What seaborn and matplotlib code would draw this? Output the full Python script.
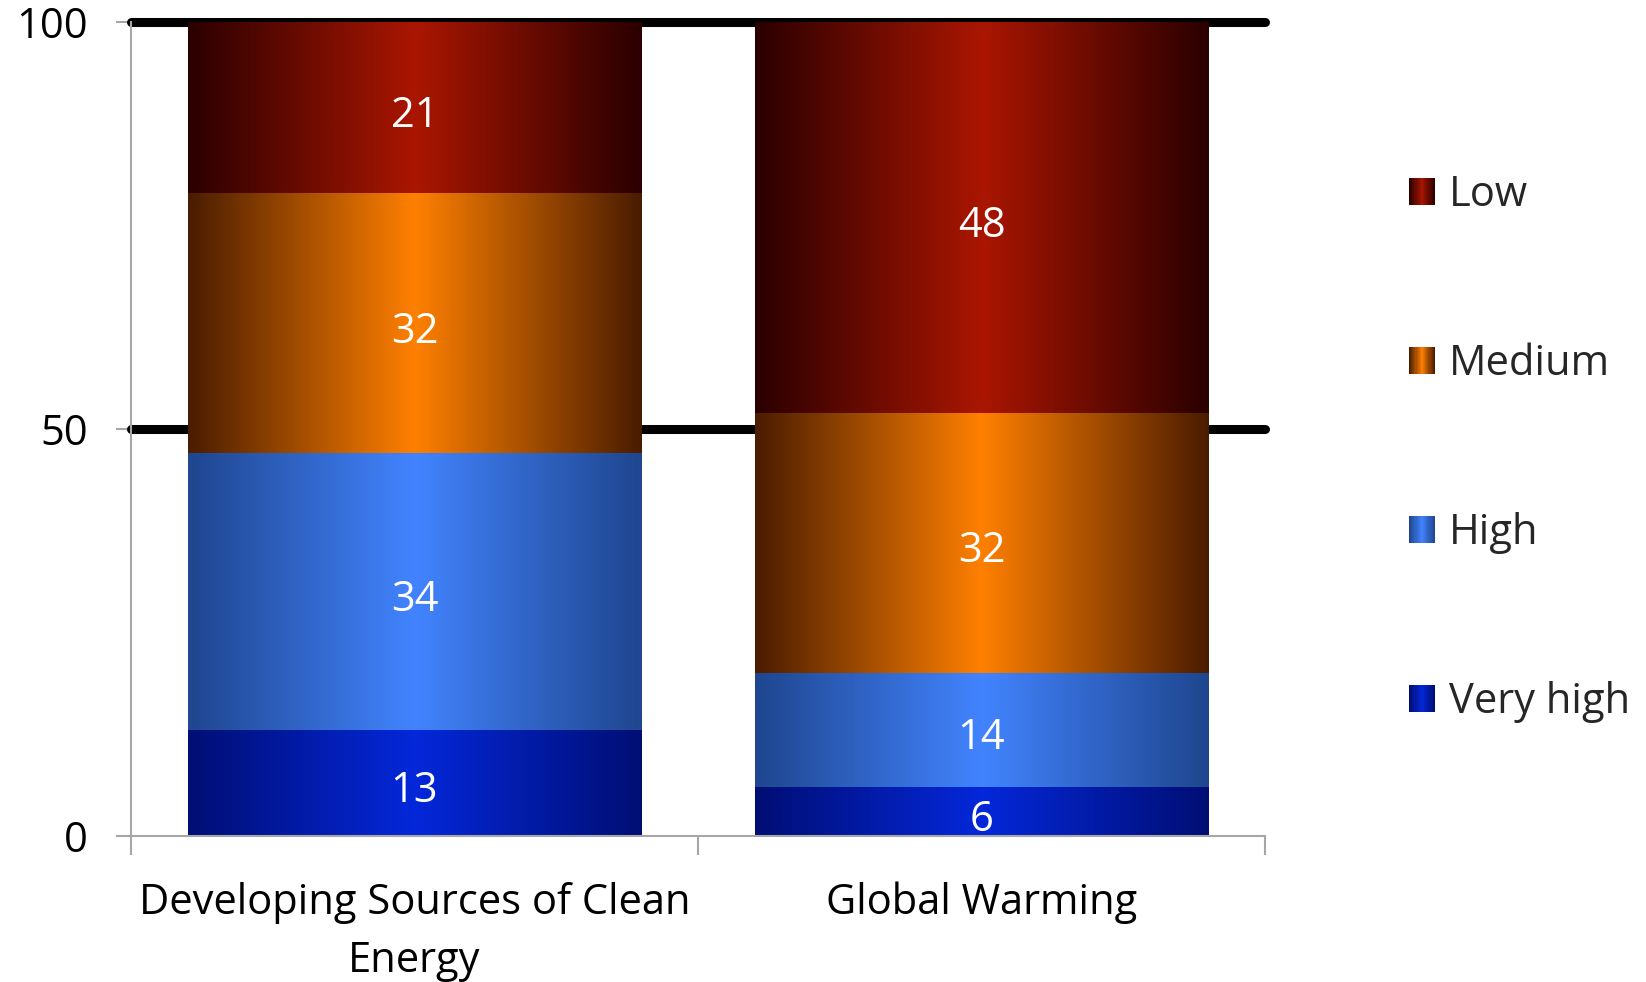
import numpy as np
import pandas as pd
import matplotlib
matplotlib.use("Agg")
import matplotlib.pyplot as plt
import seaborn as sns
from matplotlib.colors import to_rgb
from matplotlib.patches import Rectangle
from matplotlib.legend_handler import HandlerBase

# ---- data ----
categories = ["Developing Sources of Clean\nEnergy", "Global Warming"]
levels = ["Very high", "High", "Medium", "Low"]
very_high = [13, 6]
high = [34, 14]
medium = [32, 32]
low = [21, 48]
yticks = [0, 50, 100]
legend_order = ["Low", "Medium", "High", "Very high"]

series = {"Very high": very_high, "High": high, "Medium": medium, "Low": low}

# ---- styles ----
edge_colors = {"Low": "#2a0000", "Medium": "#4a1c00", "High": "#1f468f", "Very high": "#000e74"}
center_colors = {"Low": "#aa1600", "Medium": "#ff8000", "High": "#4284ff", "Very high": "#0428da"}
FS = 30

sns.set_style("white")
plt.rcParams["font.family"] = ["Open Sans", "DejaVu Sans"]


def grad_colors(edge, center, n=256):
    t = np.linspace(0, 1, n)
    w = 1 - np.abs(2 * t - 1)
    e = np.array(to_rgb(edge))
    c = np.array(to_rgb(center))
    return e[None, :] * (1 - w[:, None]) + c[None, :] * w[:, None]


class GradHandler(HandlerBase):
    def __init__(self, edge, center, n=24):
        super().__init__()
        self.cols = grad_colors(edge, center, n)
        self.n = n

    def create_artists(self, legend, orig_handle, xdescent, ydescent, width,
                       height, fontsize, trans):
        arts = []
        sw = width / self.n
        for i in range(self.n):
            r = Rectangle((-xdescent + i * sw, -ydescent), sw * 1.05, height,
                          facecolor=self.cols[i], edgecolor="none", transform=trans)
            arts.append(r)
        return arts


fig = plt.figure(figsize=(16.46, 9.82), dpi=100)
ax = fig.add_axes([0.0796, 0.1487, 0.6889, 0.8289])

bottom = np.zeros(len(categories))
containers = []
for lvl in levels:
    df = pd.DataFrame({"category": categories, "value": series[lvl]})
    sns.barplot(data=df, x="category", y="value", bottom=bottom.copy(),
                width=0.8, color=center_colors[lvl], saturation=1,
                errorbar=None, ax=ax, zorder=3, linewidth=0)
    containers.append(ax.containers[-1])
    bottom += np.array(series[lvl])

# gradient fill for each bar segment
for lvl, cont in zip(levels, containers):
    g = grad_colors(edge_colors[lvl], center_colors[lvl])
    for p in cont.patches:
        x0, y0 = p.get_xy()
        w, h = p.get_width(), p.get_height()
        ax.imshow(g[None, :, :], extent=(x0, x0 + w, y0, y0 + h), aspect="auto",
                  interpolation="bilinear", zorder=3)
        p.set_facecolor("none")
    ax.bar_label(cont, labels=[str(v) for v in series[lvl]], label_type="center",
                 color="white", fontsize=FS, zorder=5, padding=-6)

# gridlines
for yv in [50, 100]:
    ax.axhline(yv, color="black", lw=6.5, zorder=1, clip_on=False)

ax.set_xlim(-0.5, 1.5)
ax.set_ylim(0, 100)
ax.set_yticks(yticks)
ax.set_xlabel("")
ax.set_ylabel("")

gray = "#a6a6a6"
for s in ["top", "right"]:
    ax.spines[s].set_visible(False)
for s in ["left", "bottom"]:
    ax.spines[s].set_color(gray)
    ax.spines[s].set_linewidth(1.5)
    ax.spines[s].set_zorder(4)

ax.tick_params(axis="y", left=True, length=11, width=1.5, color=gray, pad=20,
               labelsize=FS, labelcolor="black")
ax.tick_params(axis="x", which="major", bottom=True, length=0, pad=33,
               labelsize=FS, labelcolor="black")
for t in ax.get_xticklabels():
    t.set_linespacing(1.5)
ax.set_xticks([-0.5, 0.5, 1.5], minor=True)
ax.tick_params(axis="x", which="minor", bottom=True, length=14, width=1.5, color=gray)

# legend
handles = [Rectangle((0, 0), 1, 1) for _ in legend_order]
hmap = {h: GradHandler(edge_colors[l], center_colors[l]) for h, l in zip(handles, legend_order)}
fig.legend(handles, legend_order, handler_map=hmap, loc="center left",
           bbox_to_anchor=(0.856, 0.543), frameon=False, fontsize=FS,
           handlelength=0.62, handleheight=0.62, handletextpad=0.33,
           labelspacing=3.05, borderpad=0, borderaxespad=0)

fig.savefig("out.png", dpi=100)
